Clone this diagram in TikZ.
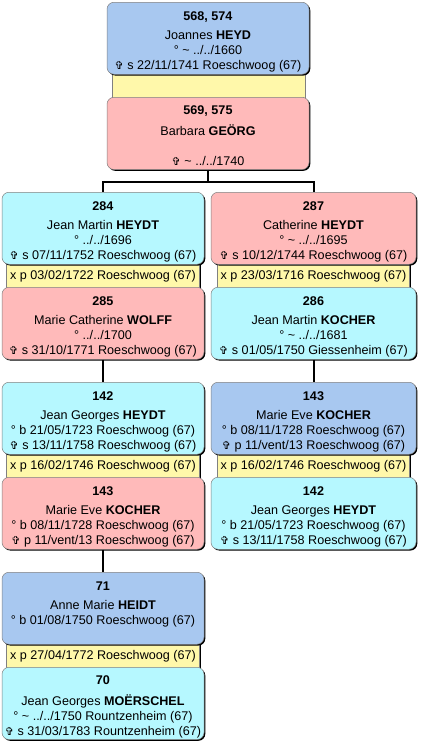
\documentclass[tikz,border=0pt]{standalone}
\usepackage{fontspec}
\setmainfont{Liberation Sans}
\newfontfamily\symf{DejaVu Sans}
\usetikzlibrary{shadows}
\definecolor{pblue}{RGB}{168,200,240}
\definecolor{ppink}{RGB}{255,186,186}
\definecolor{pcyan}{RGB}{182,248,255}
\definecolor{pyel}{RGB}{255,248,170}
\newcommand{\dcross}{{\symf\fontsize{11}{12}\selectfont ✞}}
\newcommand{\pinfo}[4]{\rule{0pt}{0pt}\\[2.5pt]\strut\textbf{#1}\\[4pt]\strut #2\\\strut #3\\\strut #4}
\tikzset{
  pbox/.style={draw=black!50, line width=0.5pt, rounded corners=7pt,
    minimum height=72pt, minimum width=202pt, inner sep=0pt, anchor=north,
    align=center, font=\fontsize{12.6}{15}\selectfont,
    drop shadow={shadow xshift=1.3pt, shadow yshift=-1.3pt, fill=black, opacity=1}},
  pband/.style={draw=black!50, line width=0.5pt, fill=pyel,
    minimum height=27pt, inner sep=0pt, anchor=north,
    font=\fontsize{12.6}{15}\selectfont,
    drop shadow={shadow xshift=1.3pt, shadow yshift=-1.3pt, fill=black, opacity=1}},
  link/.style={line width=2pt, black}
}
\begin{document}
\begin{tikzpicture}[x=1pt,y=-1pt]
\useasboundingbox (0,0) rectangle (422,747);
% bands first
\node[pband, minimum width=193pt] (ab) at (208.5,72) {};
\node[pband, minimum width=193pt] (blb) at (103,262) {x p 03/02/1722 Roeschwoog (67)};
\node[pband, minimum width=192pt] (brb) at (313.5,262) {x p 23/03/1716 Roeschwoog (67)};
\node[pband, minimum width=193pt] (clb) at (103,452) {x p 16/02/1746 Roeschwoog (67)};
\node[pband, minimum width=192pt] (crb) at (313.5,452) {x p 16/02/1746 Roeschwoog (67)};
\node[pband, minimum width=193pt] (db) at (103,642) {x p 27/04/1772 Roeschwoog (67)};
% boxes
\node[pbox, fill=pblue] (a1) at (208,2) {\pinfo{568, 574}{Joannes \textbf{HEYD}}{° \textasciitilde{} ../../1660}{\dcross{} s 22/11/1741 Roeschwoog (67)}};
\node[pbox, fill=ppink] (a2) at (208,97) {\pinfo{569, 575}{Barbara \textbf{GEÖRG}}{}{\dcross{} \textasciitilde{} ../../1740}};
\node[pbox, fill=pcyan] (bl1) at (103,192) {\pinfo{284}{Jean Martin \textbf{HEYDT}}{° ../../1696}{\dcross{} s 07/11/1752 Roeschwoog (67)}};
\node[pbox, fill=ppink] (bl2) at (103,287) {\pinfo{285}{Marie Catherine \textbf{WOLFF}}{° ../../1700}{\dcross{} s 31/10/1771 Roeschwoog (67)}};
\node[pbox, fill=ppink, minimum width=205pt] (br1) at (313.5,192) {\pinfo{287}{Catherine \textbf{HEYDT}}{° \textasciitilde{} ../../1695}{\dcross{} s 10/12/1744 Roeschwoog (67)}};
\node[pbox, fill=pcyan, minimum width=205pt] (br2) at (313.5,287) {\pinfo{286}{Jean Martin \textbf{KOCHER}}{° \textasciitilde{} ../../1681}{\dcross{} s 01/05/1750 Giessenheim (67)}};
\node[pbox, fill=pcyan] (cl1) at (103,382) {\pinfo{142}{Jean Georges \textbf{HEYDT}}{° b 21/05/1723 Roeschwoog (67)}{\dcross{} s 13/11/1758 Roeschwoog (67)}};
\node[pbox, fill=ppink] (cl2) at (103,477) {\pinfo{143}{Marie Eve \textbf{KOCHER}}{° b 08/11/1728 Roeschwoog (67)}{\dcross{} p 11/vent/13 Roeschwoog (67)}};
\node[pbox, fill=pblue, minimum width=205pt] (cr1) at (313.5,382) {\pinfo{143}{Marie Eve \textbf{KOCHER}}{° b 08/11/1728 Roeschwoog (67)}{\dcross{} p 11/vent/13 Roeschwoog (67)}};
\node[pbox, fill=pcyan, minimum width=205pt] (cr2) at (313.5,477) {\pinfo{142}{Jean Georges \textbf{HEYDT}}{° b 21/05/1723 Roeschwoog (67)}{\dcross{} s 13/11/1758 Roeschwoog (67)}};
\node[pbox, fill=pblue] (d1) at (103,572) {\pinfo{71}{Anne Marie \textbf{HEIDT}}{° b 01/08/1750 Roeschwoog (67)}{}};
\node[pbox, fill=pcyan] (d2) at (103,667) {\pinfo{70}{Jean Georges \textbf{MOËRSCHEL}}{° \textasciitilde{} ../../1750 Rountzenheim (67)}{\dcross{} s 31/03/1783 Rountzenheim (67)}};
% connectors
\draw[link] (a2.south) -- ++(0,12) -| (bl1.north);
\draw[link] (a2.south) -- ++(0,12) -| (br1.north);
\draw[link] (bl2.south) -- (cl1.north);
\draw[link] (br2.south) -- (cr1.north);
\draw[link] (cl2.south) -- (d1.north);
\end{tikzpicture}
\end{document}
